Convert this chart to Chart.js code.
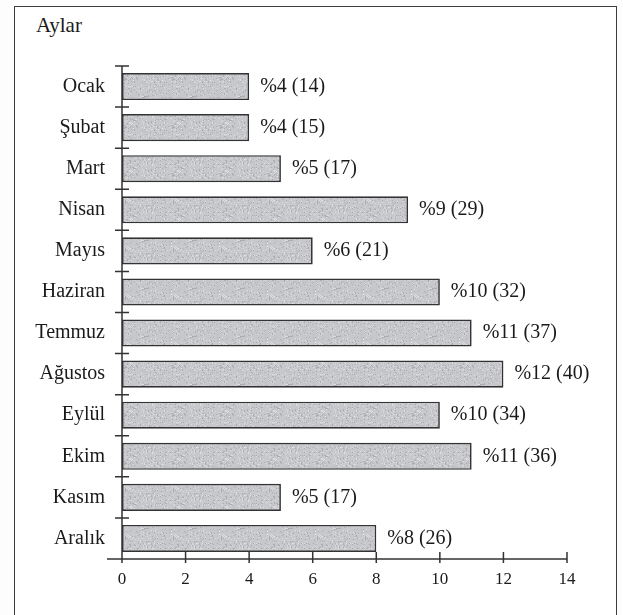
<!DOCTYPE html>
<html lang="tr">
<head>
<meta charset="utf-8">
<title>Aylar</title>
<script src="https://cdn.jsdelivr.net/npm/chart.js@4.4.1/dist/chart.umd.min.js"></script>
<style>
  html, body { margin: 0; padding: 0; background: #fdfdfd; overflow: hidden; }
  #wrap { position: relative; width: 623px; height: 615px; }
  #frame {
    position: absolute; left: 14px; top: 6px; width: 603px; height: 640px;
    border: 1.6px solid #3c3c3c; background: #ffffff; box-sizing: border-box;
  }
  #title {
    position: absolute; left: 36px; top: 13px;
    font-family: "Liberation Serif", "Times New Roman", serif; font-size: 21px; color: #1a1a1a;
  }
  canvas { position: absolute; left: 0; top: 0; }
</style>
</head>
<body>
<div id="wrap">
  <div id="frame"></div>
  <div id="title">Aylar</div>
  <canvas id="c" width="623" height="615"></canvas>
</div>
<script>
// Months of the year
const months = ['Ocak', 'Şubat', 'Mart', 'Nisan', 'Mayıs', 'Haziran',
                'Temmuz', 'Ağustos', 'Eylül', 'Ekim', 'Kasım', 'Aralık'];
// Share of each month in percent (bar length)
const percents = [4, 4, 5, 9, 6, 10, 11, 12, 10, 11, 5, 8];
// Count shown in brackets next to each bar
const counts = [14, 15, 17, 29, 21, 32, 37, 40, 34, 36, 17, 26];
// Horizontal axis ticks
const xTicks = [0, 2, 4, 6, 8, 10, 12, 14];

const SERIF = '"Liberation Serif", "Times New Roman", serif';
const INK = '#1a1a1a';
const LINE = '#333333';

// Grey bar fill with a fine, fixed speckle (deterministic hash, no randomness)
function speckleFill() {
  const size = 48;
  const cv = document.createElement('canvas');
  cv.width = size; cv.height = size;
  const g = cv.getContext('2d');
  g.fillStyle = '#c6c8cc';
  g.fillRect(0, 0, size, size);
  for (let y = 0; y < size; y++) {
    for (let x = 0; x < size; x++) {
      const h = ((x * 73856093) ^ (y * 19349663)) >>> 0;
      const k = (h % 97);
      if (k < 10) { g.fillStyle = 'rgba(120,124,130,0.35)'; g.fillRect(x, y, 1, 1); }
      else if (k > 88) { g.fillStyle = 'rgba(235,237,240,0.6)'; g.fillRect(x, y, 1, 1); }
    }
  }
  return document.getElementById('c').getContext('2d').createPattern(cv, 'repeat');
}

// Axis lines and crossing tick marks, placed from the scales
const axesPlugin = {
  id: 'axesLines',
  afterDatasetsDraw(chart) {
    const { ctx, chartArea } = chart;
    const xs = chart.scales.x, ys = chart.scales.y;
    ctx.save();
    ctx.strokeStyle = LINE;
    ctx.lineWidth = 1.5;
    ctx.beginPath();
    // vertical axis
    const top = ys.getPixelForValue(-0.5);
    const bottom = ys.getPixelForValue(months.length - 0.5);
    ctx.moveTo(chartArea.left, top);
    ctx.lineTo(chartArea.left, bottom);
    // category separators on the vertical axis
    for (let i = 0; i < months.length; i++) {
      const y = ys.getPixelForValue(i - 0.5);
      ctx.moveTo(chartArea.left - 7, y);
      ctx.lineTo(chartArea.left + 7, y);
    }
    // horizontal axis
    const yb = chartArea.bottom;
    ctx.moveTo(chartArea.left - 15, yb);
    ctx.lineTo(xs.getPixelForValue(xTicks[xTicks.length - 1]), yb);
    xTicks.forEach(v => {
      const x = xs.getPixelForValue(v);
      ctx.moveTo(x, yb - 7);
      ctx.lineTo(x, yb + 4);
    });
    ctx.stroke();
    ctx.restore();
  }
};

// Value labels "%p (n)" to the right of each bar
const valueLabels = {
  id: 'valueLabels',
  afterDatasetsDraw(chart) {
    const { ctx } = chart;
    const meta = chart.getDatasetMeta(0);
    ctx.save();
    ctx.font = '20px ' + SERIF;
    ctx.fillStyle = INK;
    ctx.textAlign = 'left';
    ctx.textBaseline = 'middle';
    meta.data.forEach((bar, i) => {
      ctx.fillText('%' + percents[i] + ' (' + counts[i] + ')', bar.x + 11, bar.y);
    });
    ctx.restore();
  }
};

new Chart(document.getElementById('c'), {
  type: 'bar',
  data: {
    labels: months,
    datasets: [{
      data: percents,
      backgroundColor: speckleFill(),
      borderColor: LINE,
      borderWidth: 1.7,
      borderSkipped: false,
      barPercentage: 0.66,
      categoryPercentage: 1
    }]
  },
  options: {
    indexAxis: 'y',
    responsive: false,
    animation: false,
    layout: { padding: { left: 0, top: 66, right: 56, bottom: 16 } },
    plugins: { legend: { display: false }, tooltip: { enabled: false }, title: { display: false } },
    scales: {
      x: {
        type: 'linear', min: 0, max: 14,
        afterFit(s) { s.height = 40; },
        afterBuildTicks(s) { s.ticks = xTicks.map(v => ({ value: v })); },
        grid: { display: false, drawTicks: false, tickLength: 0 },
        border: { display: false },
        ticks: { font: { family: SERIF, size: 17 }, color: INK, padding: 10, maxRotation: 0 }
      },
      y: {
        type: 'category',
        afterFit(s) { s.width = 122; },
        grid: { display: false, drawTicks: false, tickLength: 0 },
        border: { display: false },
        ticks: { font: { family: SERIF, size: 20 }, color: INK, padding: 17 }
      }
    }
  },
  plugins: [axesPlugin, valueLabels]
});
</script>
</body>
</html>
